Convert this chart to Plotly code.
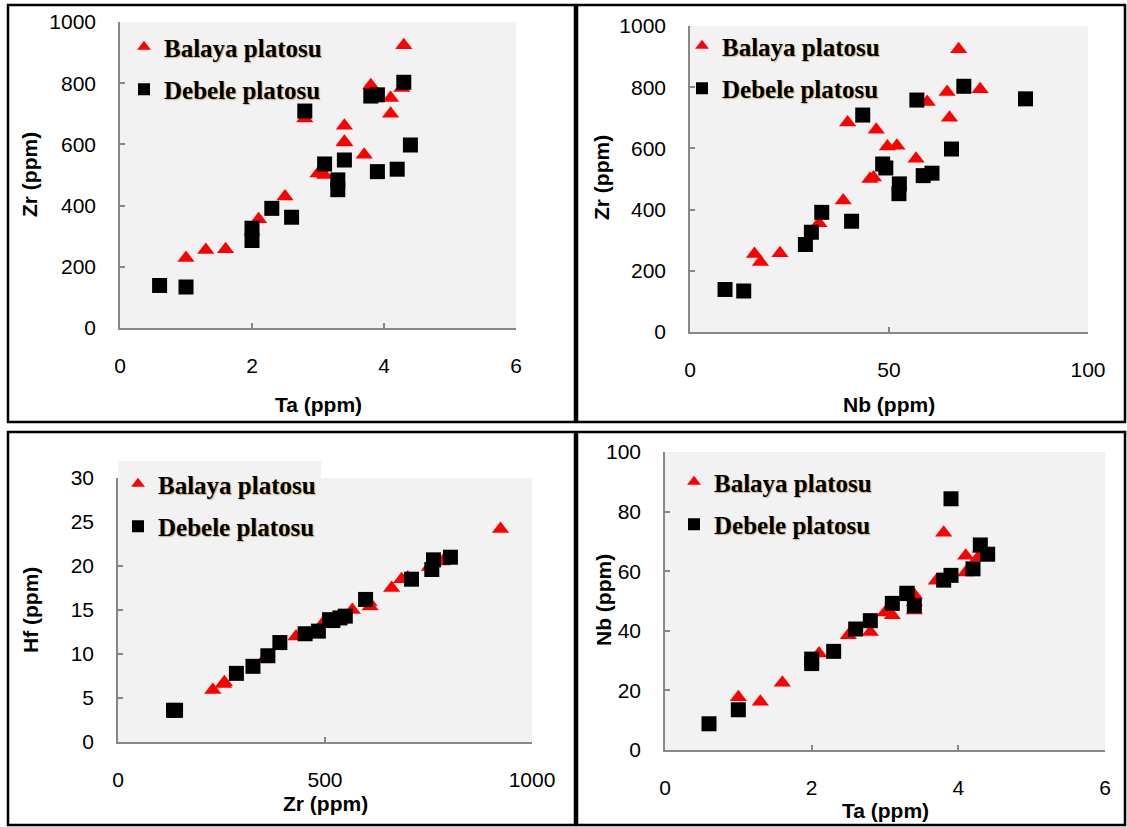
import plotly.graph_objects as go

# ---- data ----
# Balaya platosu samples
ta_balaya = [4.3, 3.8, 4.27, 4.1, 4.1, 2.8, 3.4, 3.4, 3.4, 3.7, 3.0, 3.1, 2.5, 2.1, 1.6, 1.3, 1.0]
nb_balaya = [67.5, 72.9, 64.6, 59.6, 65.2, 39.6, 46.8, 52.0, 49.6, 56.8, 46.1, 45.2, 38.5, 32.4, 22.6, 16.2, 17.7]
zr_balaya = [924, 793, 784, 752, 700, 685, 661, 609, 606, 566, 505, 500, 430, 355, 257, 255, 229]
hf_balaya = [24.2, 20.8, 20.5, 19.9, 18.7, 18.5, 17.5, 15.4, 15.9, 15.0, 13.5, 13.8, 12.0, 9.5, 6.8, 6.6, 5.9]

# Debele platosu samples
ta_debele = [4.3, 3.9, 3.8, 2.8, 4.4, 3.4, 3.1, 3.9, 4.2, 3.3, 3.3, 2.3, 2.6, 2.0, 2.0, 1.0, 0.6]
nb_debele = [68.8, 84.3, 57.0, 43.4, 65.7, 48.4, 49.2, 58.6, 60.8, 52.6, 52.5, 33.1, 40.6, 30.5, 29.0, 13.5, 8.8]
zr_debele = [803, 762, 758, 709, 598, 549, 536, 511, 519, 484, 452, 391, 362, 326, 286, 134, 139]
hf_debele = [21.0, 20.7, 19.6, 18.5, 16.2, 14.3, 14.1, 13.9, 13.8, 12.6, 12.3, 11.3, 9.8, 8.6, 7.8, 3.6, 3.6]

series_names = ["Balaya platosu", "Debele platosu"]

W, H = 1127, 827


def fx(px):
    return px / W


def fy(py):
    return 1 - py / H


panels = [
    dict(x=(ta_balaya, ta_debele), y=(zr_balaya, zr_debele), xr=[0, 6], yr=[0, 1000],
         xd=2, yd=200, xt="Ta (ppm)", yt="Zr (ppm)",
         box=(120, 516, 22, 328), xtpos=(318, 404), ytpos=(30, 175), leg=(124, 24),
         legbg="rgba(0,0,0,0)"),
    dict(x=(nb_balaya, nb_debele), y=(zr_balaya, zr_debele), xr=[0, 100], yr=[0, 1000],
         xd=50, yd=200, xt="Nb (ppm)", yt="Zr (ppm)",
         box=(690, 1088, 26, 332), xtpos=(889, 404), ytpos=(601, 178), leg=(682, 23),
         legbg="rgba(0,0,0,0)"),
    dict(x=(zr_balaya, zr_debele), y=(hf_balaya, hf_debele), xr=[0, 1000], yr=[0, 30],
         xd=500, yd=5, xt="Zr (ppm)", yt="Hf (ppm)",
         box=(118, 532, 478, 742), xtpos=(325, 803), ytpos=(30, 610), leg=(118, 461),
         legbg="#f2f2f2"),
    dict(x=(ta_balaya, ta_debele), y=(nb_balaya, nb_debele), xr=[0, 6], yr=[0, 100],
         xd=2, yd=20, xt="Ta (ppm)", yt="Nb (ppm)",
         box=(665, 1105, 452, 750), xtpos=(885, 810), ytpos=(603, 600), leg=(674, 459),
         legbg="rgba(0,0,0,0)"),
]

frames = [(8, 575, 5, 422), (577, 1125, 5, 422), (8, 575, 432, 825), (577, 1125, 432, 825)]

fig = go.Figure()
layout = dict(
    width=W, height=H, autosize=False,
    margin=dict(l=0, r=0, t=0, b=0, pad=0, autoexpand=False),
    paper_bgcolor="white",
    plot_bgcolor="#f2f2f2",
    showlegend=True,
    shapes=[], annotations=[],
)

tick_font = dict(family="Liberation Sans, Arial, sans-serif", size=21, color="black")
title_font = dict(family="Liberation Sans, Arial, sans-serif", size=21, color="black", weight="bold")
legend_font = dict(family="Liberation Serif, Times New Roman, serif", size=25, color="black",
                   weight="bold", shadow="1px 1px 1px rgba(170,120,40,0.55)")

for i, p in enumerate(panels):
    n = "" if i == 0 else str(i + 1)
    xa, ya = "x" + n, "y" + n
    legname = "legend" + n
    x0, x1, y0, y1 = p["box"]
    for k, (name, sym, col, size) in enumerate([
        (series_names[0], "triangle-up", "#ff0000", 15),
        (series_names[1], "square", "#000000", 15),
    ]):
        fig.add_trace(go.Scatter(
            x=p["x"][k], y=p["y"][k], mode="markers", name=name,
            xaxis=xa, yaxis=ya, legend=legname, legendgroup=f"g{i}{k}",
            marker=dict(symbol=sym, color=col, size=size, line=dict(width=0)),
            cliponaxis=False,
        ))
    axis_common = dict(
        showgrid=False, zeroline=False, showline=True, linecolor="#878787", linewidth=1.5,
        ticks="inside", ticklen=5, tickcolor="#878787", tickwidth=1.5,
        tickfont=tick_font, ticklabelstandoff=18, fixedrange=True, automargin=False,
    )
    layout["xaxis" + n] = dict(axis_common, range=p["xr"], dtick=p["xd"], tick0=0,
                               domain=[fx(x0), fx(x1)], anchor=ya)
    layout["yaxis" + n] = dict(axis_common, range=p["yr"], dtick=p["yd"], tick0=0,
                               domain=[fy(y1), fy(y0)], anchor=xa)
    lx, ly = p["leg"]
    layout[legname] = dict(
        x=fx(lx), y=fy(ly), xanchor="left", yanchor="top", xref="paper", yref="paper",
        bgcolor=p["legbg"], borderwidth=0, font=legend_font,
        itemsizing="constant", tracegroupgap=7, traceorder="grouped",
    )
    tx, ty = p["xtpos"]
    layout["annotations"].append(dict(text=p["xt"], x=fx(tx), y=fy(ty), xref="paper", yref="paper",
                                      showarrow=False, font=title_font, xanchor="center", yanchor="middle"))
    tx, ty = p["ytpos"]
    layout["annotations"].append(dict(text=p["yt"], x=fx(tx), y=fy(ty), xref="paper", yref="paper",
                                      showarrow=False, font=title_font, textangle=-90,
                                      xanchor="center", yanchor="middle"))

for (a, b, c, d) in frames:
    layout["shapes"].append(dict(type="rect", xref="paper", yref="paper",
                                 x0=fx(a), x1=fx(b), y0=fy(d), y1=fy(c),
                                 line=dict(color="black", width=2.5), layer="above"))

fig.update_layout(**layout)
fig.write_html("out.html", config={"displayModeBar": False},
               post_script="document.body.style.margin='0';document.body.style.overflow='hidden';")
